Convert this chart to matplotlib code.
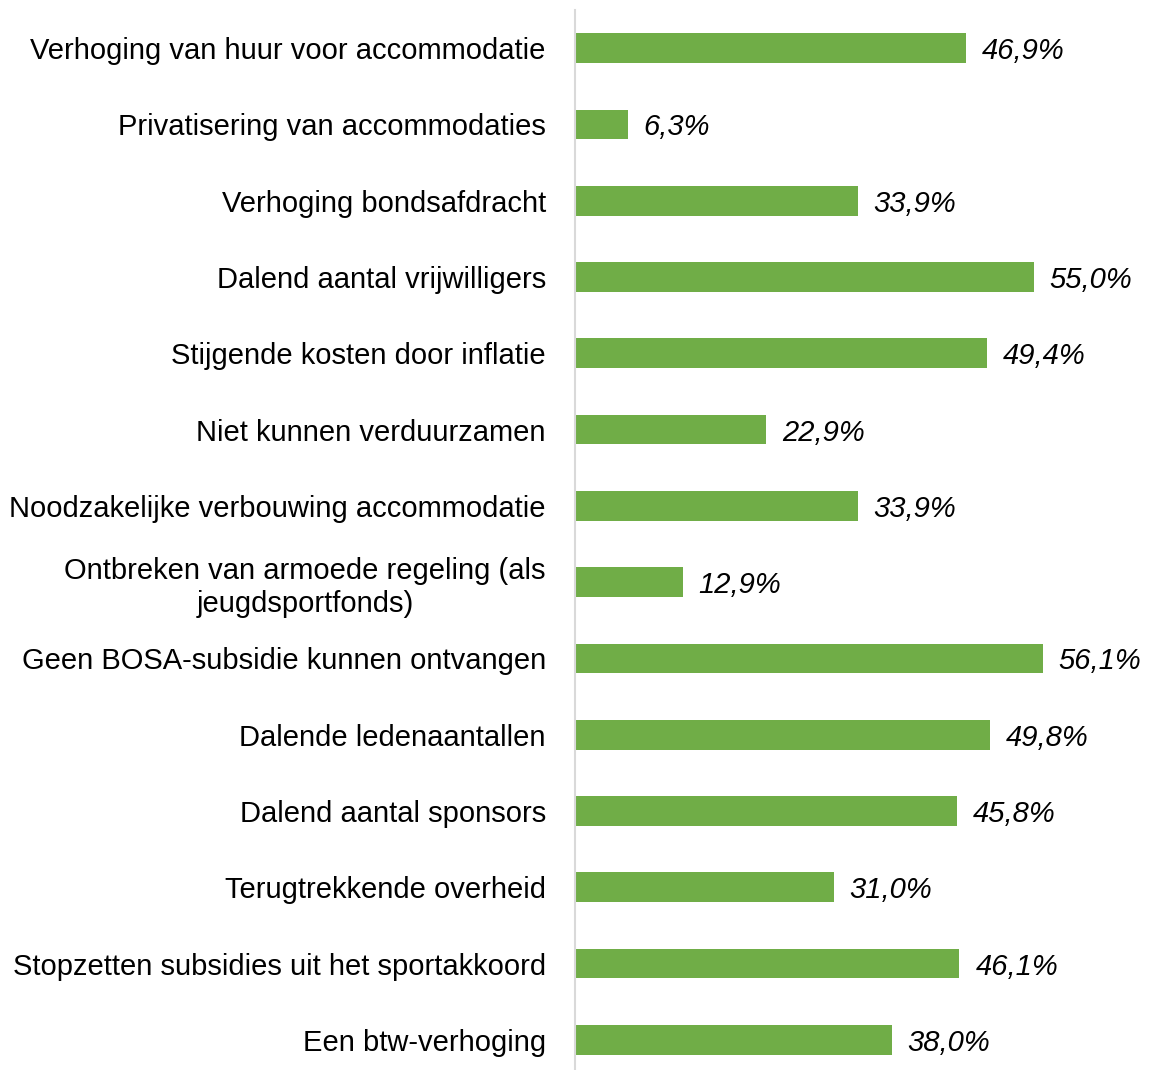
import matplotlib.pyplot as plt

plt.rcParams['font.family'] = ['Liberation Sans', 'DejaVu Sans']

# categories top to bottom
labels = [
    'Verhoging van huur voor accommodatie',
    'Privatisering van accommodaties',
    'Verhoging bondsafdracht',
    'Dalend aantal vrijwilligers',
    'Stijgende kosten door inflatie',
    'Niet kunnen verduurzamen',
    'Noodzakelijke verbouwing accommodatie',
    'Ontbreken van armoede regeling (als\njeugdsportfonds)',
    'Geen BOSA-subsidie kunnen ontvangen',
    'Dalende ledenaantallen',
    'Dalend aantal sponsors',
    'Terugtrekkende overheid',
    'Stopzetten subsidies uit het sportakkoord',
    'Een btw-verhoging',
]
values = [46.9, 6.3, 33.9, 55.0, 49.4, 22.9, 33.9, 12.9, 56.1, 49.8, 45.8, 31.0, 46.1, 38.0]

fig = plt.figure(figsize=(11.5, 10.7), dpi=100)
ax = fig.add_axes([575 / 1150, -8 / 1070, 575 / 1150, 1068 / 1070])

pos = list(range(len(labels)))
ax.barh(pos, values, height=0.39, color='#70AD47')
ax.set_ylim(len(labels) - 0.5, -0.5)
ax.set_xlim(0, 575 / 8.34)

for p, v in zip(pos, values):
    txt = ('%.1f%%' % v).replace('.', ',')
    ax.text(v + 1.9, p, txt, va='center_baseline', ha='left', fontsize=21, style='italic')

ax.set_yticks(pos)
ax.set_yticklabels(labels, fontsize=21, multialignment='center')
ax.tick_params(axis='y', length=0, pad=21)
ax.set_xticks([])
for s in ['top', 'right', 'bottom']:
    ax.spines[s].set_visible(False)
ax.spines['left'].set_color('#D9D9D9')
ax.spines['left'].set_linewidth(1.5)

fig.savefig('out.png', dpi=100)
